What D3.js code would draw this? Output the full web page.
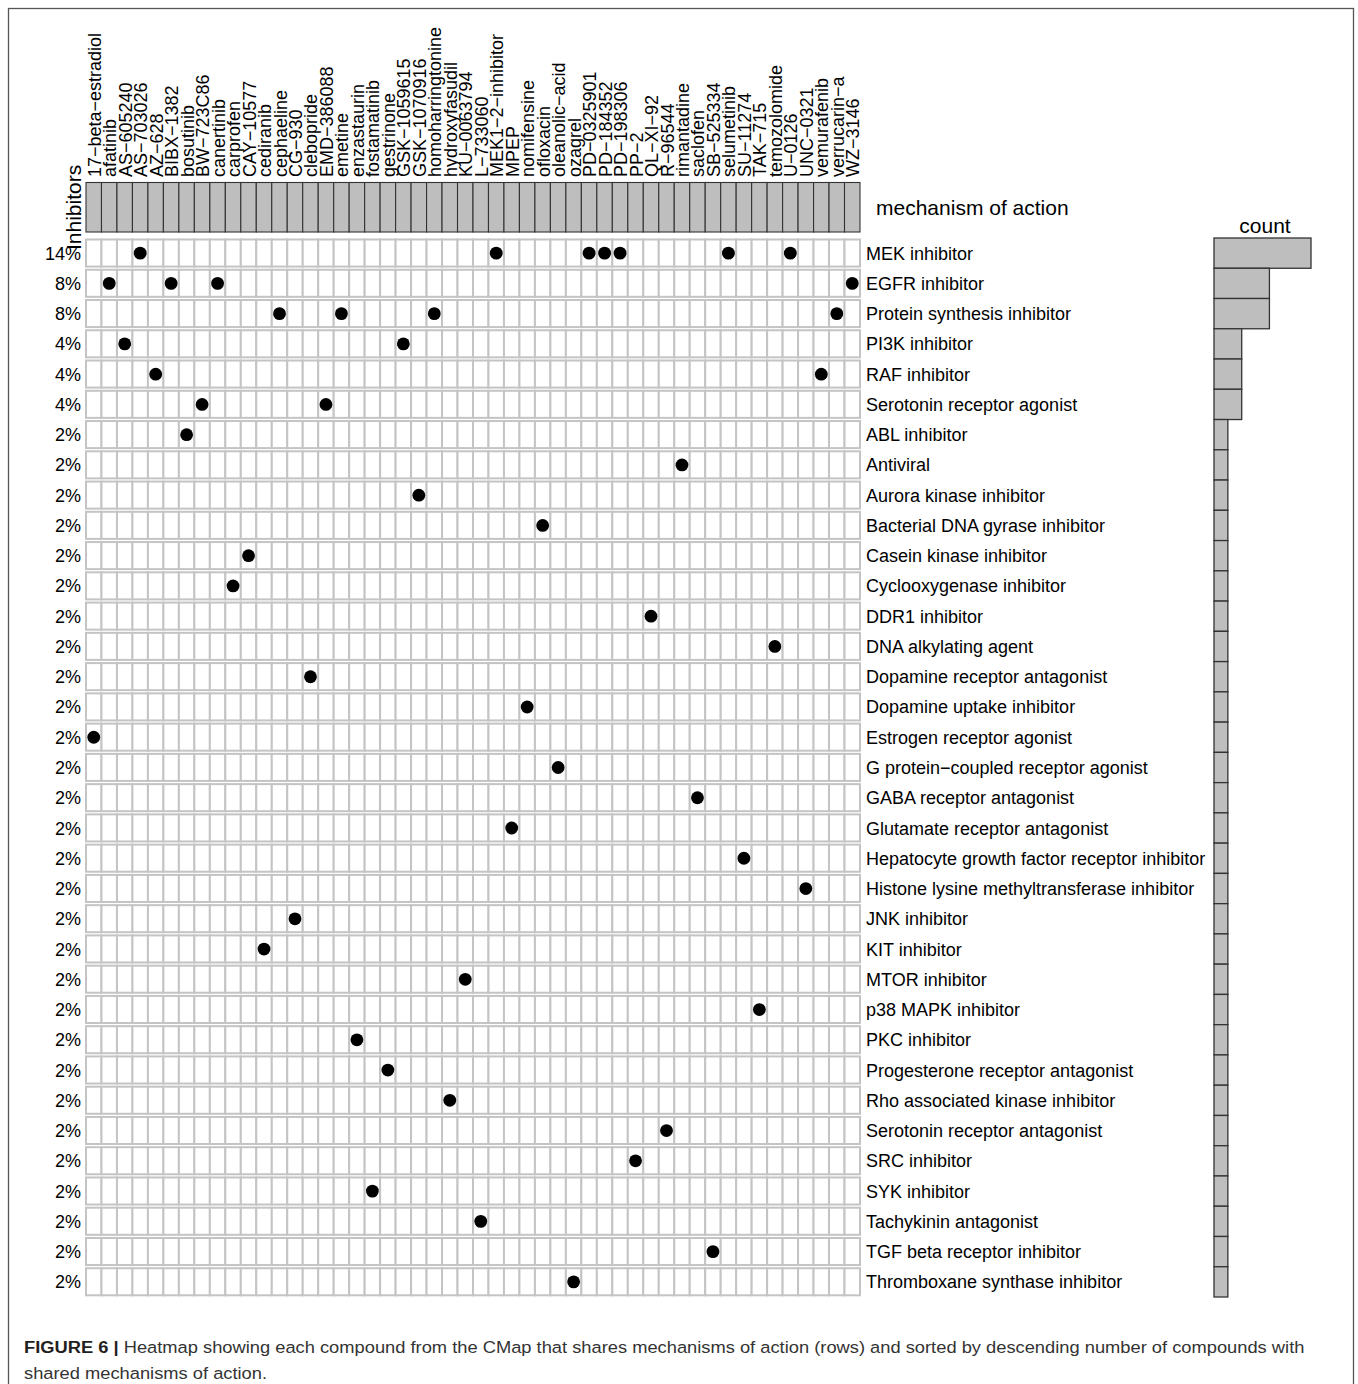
<!DOCTYPE html>
<html>
<head>
<meta charset="utf-8">
<script src="https://cdn.jsdelivr.net/npm/d3@7"></script>
<style>
  html, body { margin: 0; padding: 0; background: #fff; }
  svg { display: block; }
  text { font-family: "Liberation Sans", Arial, Helvetica, sans-serif; fill: #000; }
</style>
</head>
<body>
<svg id="chart" width="1358" height="1384"></svg>
<script>
// Compounds (columns), in display order
const compounds = [
  "17-beta-estradiol", "afatinib", "AS-605240", "AS-703026", "AZ-628", "BIBX-1382",
  "bosutinib", "BW-723C86", "canertinib", "carprofen", "CAY-10577", "cediranib",
  "cephaeline", "CG-930", "clebopride", "EMD-386088", "emetine", "enzastaurin",
  "fostamatinib", "gestrinone", "GSK-1059615", "GSK-1070916", "homoharringtonine",
  "hydroxyfasudil", "KU-0063794", "L-733060", "MEK1-2-inhibitor", "MPEP", "nomifensine",
  "ofloxacin", "oleanolic-acid", "ozagrel", "PD-0325901", "PD-184352", "PD-198306",
  "PP-2", "QL-XI-92", "R-96544", "rimantadine", "saclofen", "SB-525334", "selumetinib",
  "SU-11274", "TAK-715", "temozolomide", "U-0126", "UNC-0321", "vemurafenib",
  "verrucarin-a", "WZ-3146"
];

// Mechanisms of action (rows), sorted by descending number of compounds
const mechanisms = [
  "MEK inhibitor", "EGFR inhibitor", "Protein synthesis inhibitor", "PI3K inhibitor",
  "RAF inhibitor", "Serotonin receptor agonist", "ABL inhibitor", "Antiviral",
  "Aurora kinase inhibitor", "Bacterial DNA gyrase inhibitor", "Casein kinase inhibitor",
  "Cyclooxygenase inhibitor", "DDR1 inhibitor", "DNA alkylating agent",
  "Dopamine receptor antagonist", "Dopamine uptake inhibitor", "Estrogen receptor agonist",
  "G protein-coupled receptor agonist", "GABA receptor antagonist",
  "Glutamate receptor antagonist", "Hepatocyte growth factor receptor inhibitor",
  "Histone lysine methyltransferase inhibitor", "JNK inhibitor", "KIT inhibitor",
  "MTOR inhibitor", "p38 MAPK inhibitor", "PKC inhibitor", "Progesterone receptor antagonist",
  "Rho associated kinase inhibitor", "Serotonin receptor antagonist", "SRC inhibitor",
  "SYK inhibitor", "Tachykinin antagonist", "TGF beta receptor inhibitor",
  "Thromboxane synthase inhibitor"
];

// Mechanism of action of each compound (same order as compounds)
const compoundMoa = [
  "Estrogen receptor agonist", "EGFR inhibitor", "PI3K inhibitor", "MEK inhibitor",
  "RAF inhibitor", "EGFR inhibitor", "ABL inhibitor", "Serotonin receptor agonist",
  "EGFR inhibitor", "Cyclooxygenase inhibitor", "Casein kinase inhibitor", "KIT inhibitor",
  "Protein synthesis inhibitor", "JNK inhibitor", "Dopamine receptor antagonist",
  "Serotonin receptor agonist", "Protein synthesis inhibitor", "PKC inhibitor",
  "SYK inhibitor", "Progesterone receptor antagonist", "PI3K inhibitor",
  "Aurora kinase inhibitor", "Protein synthesis inhibitor", "Rho associated kinase inhibitor",
  "MTOR inhibitor", "Tachykinin antagonist", "MEK inhibitor", "Glutamate receptor antagonist",
  "Dopamine uptake inhibitor", "Bacterial DNA gyrase inhibitor",
  "G protein-coupled receptor agonist", "Thromboxane synthase inhibitor", "MEK inhibitor",
  "MEK inhibitor", "MEK inhibitor", "SRC inhibitor", "DDR1 inhibitor",
  "Serotonin receptor antagonist", "Antiviral", "GABA receptor antagonist",
  "TGF beta receptor inhibitor", "MEK inhibitor", "Hepatocyte growth factor receptor inhibitor",
  "p38 MAPK inhibitor", "DNA alkylating agent", "MEK inhibitor",
  "Histone lysine methyltransferase inhibitor", "RAF inhibitor", "Protein synthesis inhibitor",
  "EGFR inhibitor"
];

const captionBold = "FIGURE 6 |";
const captionLine1 = " Heatmap showing each compound from the CMap that shares mechanisms of action (rows) and sorted by descending number of compounds with";
const captionLine2 = "shared mechanisms of action.";

// ---------------------------------------------------------------
const svg = d3.select("#chart");
const minus = s => s.replace(/-/g, "\u2212");

// outer figure frame
svg.append("rect")
  .attr("x", 8.5).attr("y", 8.5).attr("width", 1345).attr("height", 1400)
  .attr("fill", "none").attr("stroke", "#555").attr("stroke-width", 1.3);

const x = d3.scaleBand().domain(compounds).range([86, 860]);
const y = d3.scaleBand().domain(mechanisms).range([238, 1297]);

const counts = new Map(mechanisms.map(m => [m, 0]));
compoundMoa.forEach(m => counts.set(m, counts.get(m) + 1));
const total = compounds.length;

const cntX = d3.scaleLinear().domain([0, d3.max(mechanisms, m => counts.get(m))]).range([1214, 1311]);

// header annotation band
const header = svg.append("g");
header.selectAll("rect").data(compounds).join("rect")
  .attr("x", d => x(d)).attr("y", 182.5)
  .attr("width", x.bandwidth()).attr("height", 49.5)
  .attr("fill", "#bebebe").attr("stroke", "#333").attr("stroke-width", 1.1);

// column labels
svg.append("g").selectAll("text").data(compounds).join("text")
  .attr("transform", d => `translate(${x(d) + x.bandwidth() / 2 + 7},177) rotate(-90)`)
  .attr("font-size", 18)
  .text(d => minus(d));

svg.append("text")
  .attr("x", 876).attr("y", 215)
  .attr("font-size", 21)
  .text("mechanism of action");

svg.append("text")
  .attr("transform", "translate(81,250) rotate(-90)")
  .attr("font-size", 21)
  .text("Inhibitors");

// grid cells
const cells = [];
mechanisms.forEach(m => compounds.forEach(c => cells.push({ m, c })));
svg.append("g").selectAll("rect").data(cells).join("rect")
  .attr("x", d => x(d.c)).attr("y", d => y(d.m) + 1.5)
  .attr("width", x.bandwidth()).attr("height", y.bandwidth() - 3.2)
  .attr("fill", "#fff").attr("stroke", "#c4c4c4").attr("stroke-width", 2);

// membership dots
svg.append("g").selectAll("circle").data(compounds).join("circle")
  .attr("cx", d => x(d) + x.bandwidth() / 2)
  .attr("cy", (d, i) => y(compoundMoa[i]) + y.bandwidth() / 2)
  .attr("r", 6.4).attr("fill", "#000");

// percentage labels
svg.append("g").selectAll("text").data(mechanisms).join("text")
  .attr("x", 81).attr("y", d => y(d) + y.bandwidth() / 2 + 6.5)
  .attr("text-anchor", "end").attr("font-size", 18)
  .text(d => Math.round(counts.get(d) / total * 100) + "%");

// row labels
svg.append("g").selectAll("text").data(mechanisms).join("text")
  .attr("x", 866).attr("y", d => y(d) + y.bandwidth() / 2 + 6.5)
  .attr("font-size", 18)
  .text(d => minus(d));

// count bars
svg.append("text")
  .attr("x", 1265).attr("y", 233).attr("text-anchor", "middle")
  .attr("font-size", 21).text("count");

svg.append("g").selectAll("rect").data(mechanisms).join("rect")
  .attr("x", cntX(0)).attr("y", d => y(d))
  .attr("width", d => cntX(counts.get(d)) - cntX(0)).attr("height", y.bandwidth())
  .attr("fill", "#bebebe").attr("stroke", "#333").attr("stroke-width", 1.3);

// caption
const cap1 = svg.append("text").attr("x", 24).attr("y", 1353)
  .attr("font-size", 17).style("fill", "#333");
cap1.append("tspan").attr("font-weight", "bold").style("fill", "#231f20").text(captionBold);
cap1.append("tspan").text(captionLine1);
const natural1 = cap1.node().getComputedTextLength();
const sx = 1281 / natural1;
cap1.attr("transform", `translate(24,0) scale(${sx},1) translate(-24,0)`);

svg.append("text").attr("x", 24).attr("y", 1379)
  .attr("font-size", 17).style("fill", "#333")
  .attr("transform", `translate(24,0) scale(${sx},1) translate(-24,0)`)
  .text(captionLine2);
</script>
</body>
</html>
